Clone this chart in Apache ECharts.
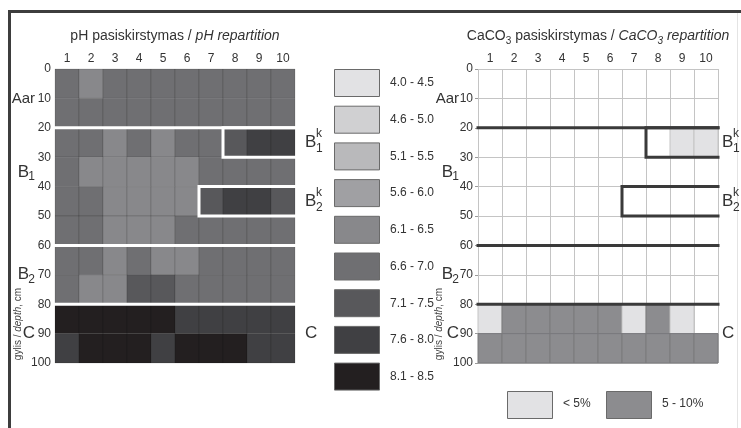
<!DOCTYPE html>
<html>
<head>
<meta charset="utf-8">
<script src="https://cdn.jsdelivr.net/npm/echarts@6/dist/echarts.min.js"></script>
<style>
  html, body { margin: 0; padding: 0; background: #fff; }
  #main { width: 741px; height: 428px; }
</style>
</head>
<body>
<div id="main"></div>
<script>
// column numbers and depth rows (top of each 10 cm layer)
const colLabels = ['1', '2', '3', '4', '5', '6', '7', '8', '9', '10'];
const rowDepths = [0, 10, 20, 30, 40, 50, 60, 70, 80, 90];

// pH classes
const phLabels = ['4.0 - 4.5', '4.6 - 5.0', '5.1 - 5.5', '5.6 - 6.0', '6.1 - 6.5', '6.6 - 7.0', '7.1 - 7.5', '7.6 - 8.0', '8.1 - 8.5'];
const phColors = ['#e2e2e4', '#d0d0d2', '#b9b9bb', '#a0a0a3', '#88888b', '#6f6f72', '#58585b', '#404043', '#231f20'];
// class index of every cell, one row per depth layer
const phGrid = [
  [5, 4, 5, 5, 5, 5, 5, 5, 5, 5],
  [5, 5, 5, 5, 5, 5, 5, 5, 5, 5],
  [5, 5, 4, 5, 4, 5, 5, 6, 7, 7],
  [5, 4, 4, 4, 4, 4, 5, 5, 5, 5],
  [5, 5, 4, 4, 4, 4, 6, 7, 7, 6],
  [5, 5, 4, 4, 4, 5, 5, 5, 5, 5],
  [5, 5, 4, 5, 4, 4, 5, 5, 5, 5],
  [5, 4, 4, 6, 6, 5, 5, 5, 5, 5],
  [8, 8, 8, 8, 8, 7, 7, 7, 7, 7],
  [7, 8, 8, 8, 7, 8, 8, 8, 7, 7]
];

// CaCO3 classes (0 = none)
const carbLabels = ['< 5%', '5 - 10%'];
const carbColors = ['#e2e2e4', '#8c8c8f'];
const carbGrid = [
  [0, 0, 0, 0, 0, 0, 0, 0, 0, 0],
  [0, 0, 0, 0, 0, 0, 0, 0, 0, 0],
  [0, 0, 0, 0, 0, 0, 0, 0, 1, 1],
  [0, 0, 0, 0, 0, 0, 0, 0, 0, 0],
  [0, 0, 0, 0, 0, 0, 0, 0, 0, 0],
  [0, 0, 0, 0, 0, 0, 0, 0, 0, 0],
  [0, 0, 0, 0, 0, 0, 0, 0, 0, 0],
  [0, 0, 0, 0, 0, 0, 0, 0, 0, 0],
  [1, 2, 2, 2, 2, 2, 1, 2, 1, 0],
  [2, 2, 2, 2, 2, 2, 2, 2, 2, 2]
];

// horizon boundaries, as polylines in (column edge, depth)
const horizonLines = [
  [[0, 20], [10, 20]],
  [[10, 20], [7, 20], [7, 30], [10, 30]],
  [[10, 40], [6, 40], [6, 50], [10, 50]],
  [[0, 60], [10, 60]],
  [[0, 80], [10, 80]]
];

// horizon names left of the depth axis
const leftNames = ['Aar', 'B', 'B', 'C'];
const leftSubs = ['', '1', '2', ''];
const leftDepths = [10, 35, 70, 90];
// horizon names right of the grid
const rightNames = ['B', 'B', 'C'];
const rightSubs = ['1', '2', ''];
const rightSups = ['k', 'k', ''];
const rightDepths = [25, 45, 90];

const FONT = "'Liberation Sans', Arial, sans-serif";
const TXT = '#333';

const toCells = grid => {
  const out = [];
  grid.forEach((row, r) => row.forEach((v, c) => {
    out.push([c + 1, rowDepths[r], v]);
  }));
  return out;
};

const phData = toCells(phGrid);
const carbData = toCells(carbGrid).filter(d => d[2] > 0);

const cellRender = (fillOf, strokeOf) => (params, api) => {
  const col = api.value(0), top = api.value(1), cls = api.value(2);
  const p0 = api.coord([col - 1, top]);
  const p1 = api.coord([col, top + 10]);
  return {
    type: 'rect',
    shape: { x: p0[0], y: p0[1], width: p1[0] - p0[0], height: p1[1] - p0[1] },
    style: { fill: fillOf(cls), stroke: strokeOf(cls), lineWidth: 1 }
  };
};

const lineRender = color => (params, api) => {
  const pts = horizonLines[api.value(0)].map(p => api.coord(p));
  return {
    type: 'polyline',
    shape: { points: pts },
    style: { stroke: color, lineWidth: 3, fill: null, lineJoin: 'miter', lineCap: 'square' }
  };
};

const txt = (x, y, text, size, align) => ({
  type: 'text', x: x, y: y, silent: true,
  style: { text: text, fill: TXT, fontSize: size, fontFamily: FONT, align: align, verticalAlign: 'middle' }
});

// names left of the depth axis: right aligned, anchored to a depth
const leftNameRender = off => (params, api) => {
  const i = api.value(0);
  const p = api.coord([0, leftDepths[i]]);
  const xr = p[0] - off;
  if (!leftSubs[i]) {
    return { type: 'group', children: [txt(xr, p[1], leftNames[i], leftNames[i] === 'Aar' ? 15 : 17, 'right')] };
  }
  return {
    type: 'group',
    children: [
      txt(xr - 6, p[1], leftNames[i], 17, 'right'),
      txt(xr, p[1] + 5, leftSubs[i], 12, 'right')
    ]
  };
};

const rightNameRender = gap => (params, api) => {
  const i = api.value(0);
  const p = api.coord([10, rightDepths[i]]);
  const xl = p[0] + gap;
  const kids = [txt(xl, p[1], rightNames[i], 17, 'left')];
  if (rightSubs[i]) kids.push(txt(xl + 11, p[1] + 6, rightSubs[i], 12, 'left'));
  if (rightSups[i]) kids.push(txt(xl + 11, p[1] - 9, rightSups[i], 12, 'left'));
  return { type: 'group', children: kids };
};

const idx = arr => arr.map((d, i) => [i, 0]);

const catAxis = grid => ({
  gridIndex: grid, type: 'category', data: colLabels, position: 'top',
  axisLine: { show: false }, axisTick: { show: false }, splitLine: { show: false },
  axisLabel: { fontSize: 12, color: TXT, fontFamily: FONT, margin: 4 }
});

const depthAxis = (grid, margin, split) => ({
  gridIndex: grid, type: 'value', min: 0, max: 100, interval: 10, inverse: true,
  axisLine: { show: false },
  axisTick: { show: split, length: 3, lineStyle: { color: '#9a9a9a' } },
  splitLine: { show: split, lineStyle: { color: '#c4c4c4', width: 1 } },
  axisLabel: { fontSize: 12, color: TXT, fontFamily: FONT, margin: margin }
});

// frame, titles, legends
const graphics = [
  { type: 'rect', shape: { x: 8, y: 10, width: 733, height: 3 }, style: { fill: '#3d3d3d' } },
  { type: 'rect', shape: { x: 8, y: 10, width: 3, height: 418 }, style: { fill: '#3d3d3d' } },
  { type: 'rect', shape: { x: 737, y: 13, width: 1, height: 415 }, style: { fill: '#e4e4e4' } },
  {
    type: 'text', x: 175, y: 36,
    style: {
      text: '{n|pH pasiskirstymas / }{i|pH repartition}', align: 'center', verticalAlign: 'middle',
      rich: {
        n: { fontSize: 14, fill: TXT, fontFamily: FONT },
        i: { fontSize: 14, fill: TXT, fontFamily: FONT, fontStyle: 'italic' }
      }
    }
  },
  {
    type: 'text', x: 598, y: 36,
    style: {
      text: '{n|CaCO}{s|3}{n| pasiskirstymas / }{i|CaCO}{si|3}{i| repartition}', align: 'center', verticalAlign: 'middle',
      rich: {
        n: { fontSize: 14, lineHeight: 20, fill: TXT, fontFamily: FONT, verticalAlign: 'middle' },
        i: { fontSize: 14, lineHeight: 20, fill: TXT, fontFamily: FONT, fontStyle: 'italic', verticalAlign: 'middle' },
        s: { fontSize: 10, lineHeight: 10, fill: TXT, fontFamily: FONT, verticalAlign: 'bottom' },
        si: { fontSize: 10, lineHeight: 10, fill: TXT, fontFamily: FONT, fontStyle: 'italic', verticalAlign: 'bottom' }
      }
    }
  }
];

[18, 439].forEach(x => {
  graphics.push({
    type: 'text', x: x, y: 324, rotation: Math.PI / 2,
    style: {
      text: '{n|gylis / }{i|depth}{n|, cm}', align: 'center', verticalAlign: 'middle',
      rich: {
        n: { fontSize: 10, fill: '#444', fontFamily: FONT },
        i: { fontSize: 10, fill: '#444', fontFamily: FONT, fontStyle: 'italic' }
      }
    }
  });
});

phLabels.forEach((lab, i) => {
  const y = 69 + i * 36.7;
  graphics.push({ type: 'rect', shape: { x: 334.5, y: y + 0.5, width: 45, height: 27 }, style: { fill: phColors[i], stroke: '#6a6a6a', lineWidth: 1 } });
  graphics.push({ type: 'text', x: 390, y: y + 14, style: { text: lab, fill: TXT, fontSize: 12, fontFamily: FONT, align: 'left', verticalAlign: 'middle' } });
});

const carbBoxX = [507, 606];
carbLabels.forEach((lab, i) => {
  graphics.push({ type: 'rect', shape: { x: carbBoxX[i] + 0.5, y: 391.5, width: 45, height: 27 }, style: { fill: carbColors[i], stroke: '#6a6a6a', lineWidth: 1 } });
  graphics.push({ type: 'text', x: carbBoxX[i] + 56, y: 404, style: { text: lab, fill: TXT, fontSize: 12, fontFamily: FONT, align: 'left', verticalAlign: 'middle' } });
});

const chart = echarts.init(document.getElementById('main'));
chart.setOption({
  animation: false,
  backgroundColor: '#fff',
  grid: [
    { left: 55, top: 69, width: 240, height: 294 },
    { left: 478, top: 69, width: 240, height: 294 }
  ],
  xAxis: [
    { gridIndex: 0, type: 'value', min: 0, max: 10, interval: 1, show: false },
    catAxis(0),
    {
      gridIndex: 1, type: 'value', min: 0, max: 10, interval: 1,
      axisLine: { show: false }, axisTick: { show: false }, axisLabel: { show: false },
      splitLine: { show: true, lineStyle: { color: '#c4c4c4', width: 1 } }
    },
    catAxis(1)
  ],
  yAxis: [depthAxis(0, 4, false), depthAxis(1, 5, true)],
  graphic: graphics,
  series: [
    {
      type: 'custom', xAxisIndex: 0, yAxisIndex: 0, silent: true,
      renderItem: cellRender(c => phColors[c], () => 'rgba(0,0,0,0.13)'),
      data: phData
    },
    {
      type: 'custom', xAxisIndex: 0, yAxisIndex: 0, silent: true, z: 5,
      renderItem: lineRender('#ffffff'),
      data: idx(horizonLines)
    },
    {
      type: 'custom', xAxisIndex: 2, yAxisIndex: 1, silent: true,
      renderItem: cellRender(c => carbColors[c - 1], c => (c === 2 ? '#7a7a7d' : '#c4c4c4')),
      data: carbData
    },
    {
      type: 'custom', xAxisIndex: 2, yAxisIndex: 1, silent: true, z: 5,
      renderItem: lineRender('#3a3a3a'),
      data: idx(horizonLines)
    },
    {
      type: 'custom', xAxisIndex: 0, yAxisIndex: 0, silent: true,
      renderItem: leftNameRender(20),
      data: idx(leftNames)
    },
    {
      type: 'custom', xAxisIndex: 2, yAxisIndex: 1, silent: true,
      renderItem: leftNameRender(19),
      data: idx(leftNames)
    },
    {
      type: 'custom', xAxisIndex: 0, yAxisIndex: 0, silent: true,
      renderItem: rightNameRender(10),
      data: idx(rightNames)
    },
    {
      type: 'custom', xAxisIndex: 2, yAxisIndex: 1, silent: true,
      renderItem: rightNameRender(4),
      data: idx(rightNames)
    }
  ]
});
</script>
</body>
</html>
